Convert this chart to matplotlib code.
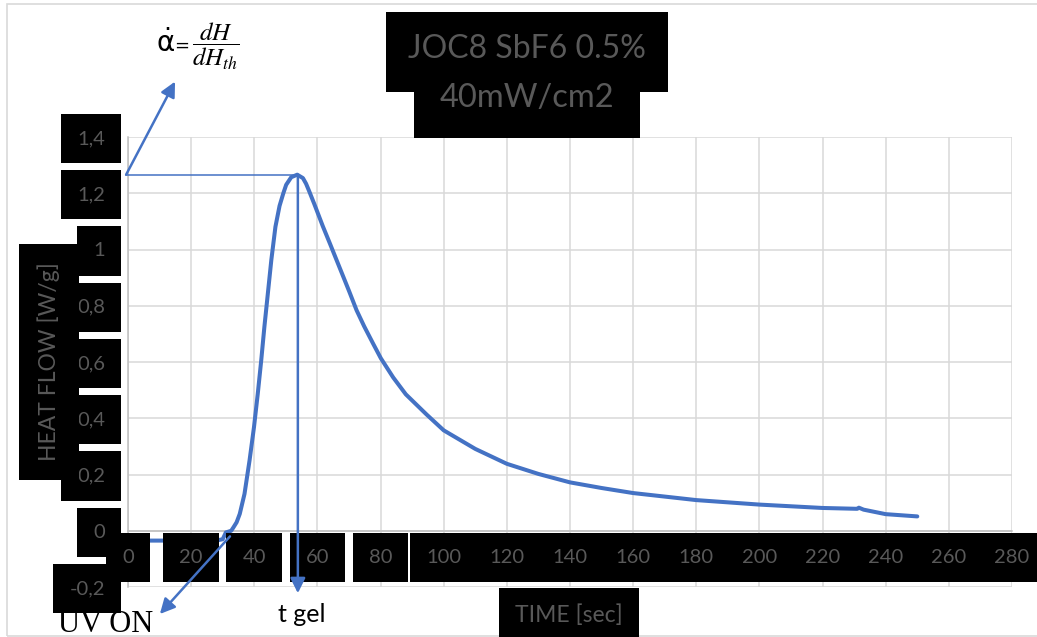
import matplotlib
matplotlib.use("Agg")
import matplotlib.pyplot as plt
from matplotlib.patches import Rectangle

# ---- data ----
time_s = [0, 10, 20, 28, 30, 31, 32.7, 33.4, 34.4, 35.4, 36.9, 38.5, 39.9, 41.1,
          42.2, 43.2, 44.3, 45.4, 46.7, 48.0, 49.2, 50.1, 51.7, 53.6, 55.4, 56.4,
          57.4, 59.0, 61.7, 64.0, 65.9, 68.2, 70.1, 72.4, 74.8, 77.7, 80.1, 84.0,
          88.0, 94.6, 100, 110, 120, 130, 140, 150, 160, 180, 200, 220, 231,
          231.5, 233, 240, 250]
heat_flow = [-0.035, -0.035, -0.035, -0.035, -0.03, -0.006, 0.0, 0.012, 0.03, 0.06,
             0.131, 0.25, 0.368, 0.487, 0.606, 0.725, 0.844, 0.963, 1.081, 1.155,
             1.2, 1.23, 1.257, 1.266, 1.254, 1.234, 1.207, 1.162, 1.083, 1.02,
             0.967, 0.903, 0.85, 0.784, 0.727, 0.664, 0.613, 0.545, 0.485, 0.413,
             0.357, 0.291, 0.238, 0.202, 0.172, 0.152, 0.134, 0.109, 0.093, 0.081,
             0.078, 0.082, 0.075, 0.059, 0.051]
x_ticks = list(range(0, 281, 20))
x_labels = [str(v) for v in x_ticks]
y_ticks = [-0.2, 0, 0.2, 0.4, 0.6, 0.8, 1.0, 1.2, 1.4]
y_labels = ["-0,2", "0", "0,2", "0,4", "0,6", "0,8", "1", "1,2", "1,4"]
peak_t, peak_v = 53.8, 1.266
uv_on_t, uv_on_v = 32.3, -0.02

W, H = 1037, 637
fig = plt.figure(figsize=(W / 100, H / 100), dpi=100)
fig.patch.set_facecolor("white")

def fx(px):
    return px / W

def fy(py):
    return 1 - py / H

# outer chart border
fig.patches.append(Rectangle((fx(7), fy(636)), fx(1040) - fx(7), fy(4) - fy(636),
                             transform=fig.transFigure, fill=False,
                             ec="#d9d9d9", lw=1.2, zorder=0))

ax = fig.add_axes([fx(128), fy(587), fx(1012) - fx(128), fy(137) - fy(587)])
ax.set_xlim(0, 280)
ax.set_ylim(-0.2, 1.4)
ax.set_facecolor("none")
ax.set_axisbelow(False)

grid_c = "#d9d9d9"
for xv in x_ticks:
    ax.axvline(xv, color=grid_c, lw=1.1, zorder=0.5)
for yv in y_ticks:
    ax.axhline(yv, color=grid_c, lw=1.1, zorder=0.5)

for s in ["top", "right"]:
    ax.spines[s].set_visible(False)
ax.spines["bottom"].set_position(("data", 0))
ax.spines["bottom"].set_color("#bfbfbf")
ax.spines["left"].set_color("#bfbfbf")
ax.spines["bottom"].set_linewidth(1.1)
ax.spines["left"].set_linewidth(1.1)
for s in ax.spines.values():
    s.set_zorder(0.6)

ax.plot(time_s, heat_flow, color="#4472C4", lw=2.9, zorder=2,
        solid_joinstyle="round", solid_capstyle="round")

ax.set_xticks(x_ticks, x_labels)
ax.set_yticks(y_ticks, y_labels)
ax.tick_params(axis="both", length=0, labelcolor="#595959")
ax.tick_params(axis="x", pad=13.2)
ax.tick_params(axis="y", pad=16.5)
for lbl in ax.get_xticklabels() + ax.get_yticklabels():
    lbl.set_fontfamily("Lato")
    lbl.set_fontsize(14.5)
    lbl.set_bbox(dict(boxstyle="square,pad=0.8", fc="black", ec="none"))

# axis titles
fig.text(fx(49), fy(362), "HEAT FLOW [W/g]", rotation=90, ha="center", va="center",
         family="Lato", size=16.5, color="#595959",
         bbox=dict(boxstyle="square,pad=0.8", fc="black", ec="none"))
fig.text(fx(569), fy(615), "TIME [sec]", ha="center", va="center",
         family="Lato", size=16.5, color="#595959",
         bbox=dict(boxstyle="square,pad=0.7", fc="black", ec="none"))

# title boxes
fig.patches.append(Rectangle((fx(386), fy(92)), fx(668) - fx(386), fy(12) - fy(92),
                             transform=fig.transFigure, fc="black", ec="none", zorder=1))
fig.patches.append(Rectangle((fx(414), fy(138)), fx(640) - fx(414), fy(92) - fy(138),
                             transform=fig.transFigure, fc="black", ec="none", zorder=1))
fig.text(fx(527), fy(58), "JOC8 SbF6 0.5%", ha="center", va="baseline",
         family="Lato", size=23, color="#595959", zorder=2)
fig.text(fx(527), fy(107), "40mW/cm2", ha="center", va="baseline",
         family="Lato", size=23.5, color="#595959", zorder=2)
fig.patches.append(Rectangle((fx(386), fy(34)), fx(668) - fx(386), fy(12) - fy(34),
                             transform=fig.transFigure, fc="black", ec="none", zorder=3))

# formula
fig.text(fx(156), fy(52), r"$\dot{\mathrm{\alpha}}$", ha="left", va="baseline",
         size=20, color="black", math_fontfamily="dejavusans")
fig.text(fx(174), fy(51), "=", ha="left", va="baseline",
         size=13, color="black", family="DejaVu Sans")
fig.text(fx(192), fy(46), r"$\dfrac{dH}{dH_{th}}$", ha="left", va="center",
         size=18, color="black", math_fontfamily="stix")

# annotations
blue = "#4472C4"
ax.plot([-0.6, peak_t], [peak_v, peak_v], color=blue, lw=1.1, zorder=3, clip_on=False)
arrow_style = dict(arrowstyle="-|>,head_length=0.9,head_width=0.45",
                   color=blue, lw=1.8, shrinkA=0, shrinkB=0)
ax.annotate("", xy=(14.9, 1.597), xytext=(-0.6, peak_v), annotation_clip=False,
            arrowprops=arrow_style, zorder=4)
ax.annotate("", xy=(peak_t, -0.222), xytext=(peak_t, peak_v), annotation_clip=False,
            arrowprops=arrow_style, zorder=4)
ax.annotate("", xy=(10.1, -0.296), xytext=(uv_on_t, uv_on_v), annotation_clip=False,
            arrowprops=arrow_style, zorder=4)

fig.text(fx(302), fy(622), "t gel", ha="center", va="baseline",
         family="Lato", size=18, color="black")
fig.text(fx(58), fy(632), "UV ON", ha="left", va="baseline",
         family="Liberation Serif", size=22, color="black")

fig.savefig("out.png", dpi=100)
